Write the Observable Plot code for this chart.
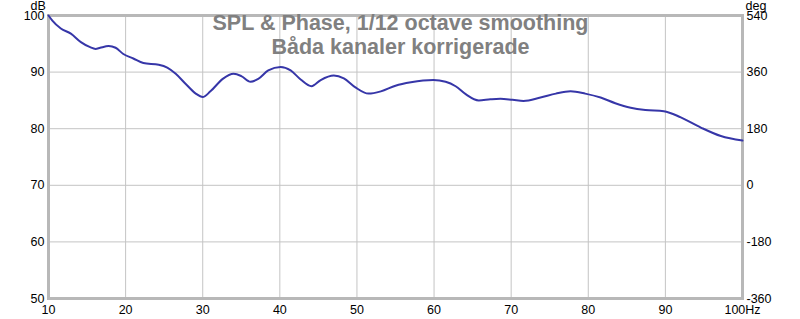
<!DOCTYPE html>
<html>
<head>
<meta charset="utf-8">
<script src="https://cdn.jsdelivr.net/npm/d3@7"></script>
<script src="https://cdn.jsdelivr.net/npm/@observablehq/plot@0.6"></script>
<style>
  html, body { margin: 0; padding: 0; background: #fff; }
  #chart { width: 800px; height: 319px; }
</style>
</head>
<body>
<div id="chart"></div>
<script>
const titleLines = ["SPL & Phase, 1/12 octave smoothing", "Båda kanaler korrigerade"];
const freqHz = [10, 10.5, 11.6, 12.9, 14.2, 15.4, 16.1, 16.7, 17.8, 18.7, 19.7, 21.0, 22.3, 24.3, 25.4, 26.5, 27.8, 29.1, 30.0, 31.0, 32.6, 34.0, 35.0, 36.2, 37.2, 38.5, 40.1, 41.4, 42.7, 44.1, 45.3, 47.0, 48.3, 49.8, 51.5, 53.1, 55.0, 57.0, 59.9, 61.5, 62.8, 64.1, 65.8, 67.3, 68.6, 70.2, 71.6, 73.8, 75.8, 77.7, 79.6, 81.6, 83.5, 85.5, 87.4, 89.8, 92.0, 94.6, 97.2, 100];
const splDb = [100, 99.1, 97.7, 96.8, 95.3, 94.4, 94.1, 94.3, 94.6, 94.3, 93.2, 92.4, 91.6, 91.3, 90.8, 89.7, 87.9, 86.2, 85.6, 86.6, 88.8, 89.7, 89.3, 88.3, 88.8, 90.3, 90.9, 90.3, 88.7, 87.5, 88.6, 89.4, 88.9, 87.3, 86.2, 86.6, 87.6, 88.2, 88.6, 88.3, 87.5, 86.1, 85.0, 85.2, 85.3, 85.1, 84.9, 85.5, 86.2, 86.6, 86.2, 85.5, 84.5, 83.7, 83.3, 83.1, 82.0, 80.2, 78.7, 77.9];
const xTicks = [10, 20, 30, 40, 50, 60, 70, 80, 90, 100];
const yTicksDb = [50, 60, 70, 80, 90, 100];
const yTicksDeg = [-360, -180, 0, 180, 360, 540];

const data = freqHz.map((f, i) => ({f, db: splDb[i]}));
// Phase axis maps linearly onto the dB axis: deg -360..540 <-> dB 50..100
const degToDb = d => 70 + d / 18;

const font = "'Liberation Sans', Arial, sans-serif";

const chart = Plot.plot({
  width: 800,
  height: 319,
  marginLeft: 48,
  marginRight: 58,
  marginTop: 15,
  marginBottom: 21,
  style: {fontFamily: font, fontSize: "12.5px", color: "#000", background: "#fff"},
  x: {domain: [10, 100], type: "linear"},
  y: {domain: [50, 100]},
  marks: [
    Plot.gridX(xTicks, {stroke: "#c4c4c4", strokeOpacity: 1}),
    Plot.gridY(yTicksDb, {stroke: "#c4c4c4", strokeOpacity: 1}),
    Plot.frame({stroke: "#b8b8b8", strokeWidth: 3}),
    Plot.axisX({ticks: xTicks, tickSize: 0, tickPadding: 7, label: null,
      tickFormat: d => d === 100 ? "100Hz" : String(d), fill: "#000"}),
    Plot.axisY({anchor: "left", ticks: yTicksDb, tickSize: 0, tickPadding: 4, label: null, fill: "#000"}),
    Plot.axisY({anchor: "right", ticks: yTicksDeg.map(degToDb), tickSize: 0, tickPadding: 4, label: null,
      tickFormat: d => String(Math.round((d - 70) * 18)), fill: "#000"}),
    Plot.text(["dB"], {frameAnchor: "top-left", lineAnchor: "middle", dx: -18, dy: -10, fontSize: 12.5, fill: "#000"}),
    Plot.text(["deg"], {frameAnchor: "top-right", lineAnchor: "middle", dx: 3, dy: -10, textAnchor: "start", fontSize: 12.5, fill: "#000"}),
    Plot.line(data, {x: "f", y: "db", stroke: "#3636a8", strokeWidth: 2, curve: "monotone-x"}),
    Plot.text([titleLines[0]], {frameAnchor: "top", lineAnchor: "middle", dx: 5, dy: 8, fontSize: 21.5, fontWeight: "bold", fill: "#808080"}),
    Plot.text([titleLines[1]], {frameAnchor: "top", lineAnchor: "middle", dx: 5, dy: 32, fontSize: 21.5, fontWeight: "bold", fill: "#808080"})
  ]
});
document.getElementById("chart").append(chart);
</script>
</body>
</html>
